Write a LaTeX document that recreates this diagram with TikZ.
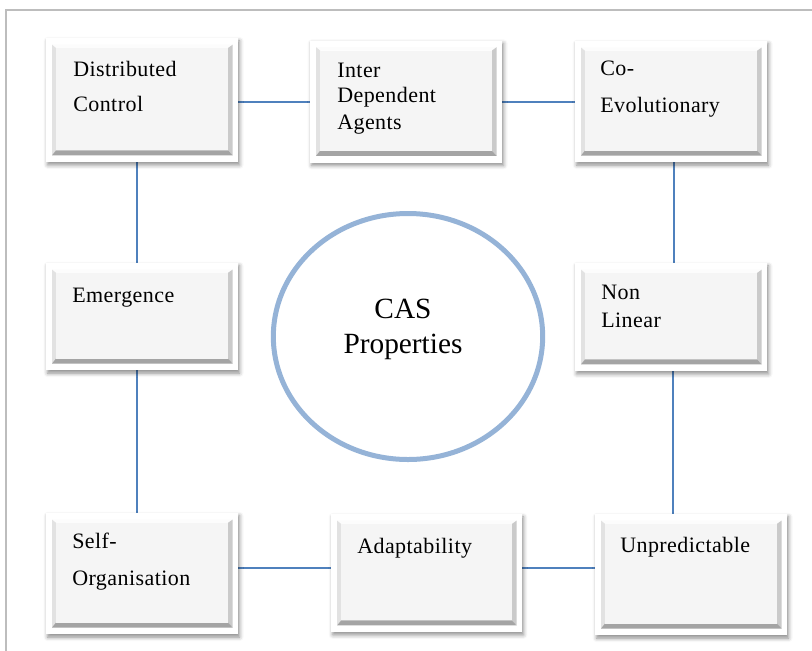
\documentclass[tikz,border=0pt]{standalone}
\usepackage{fontspec}
\setmainfont{Liberation Serif}
\newfontfamily\boxfont[LetterSpace=2]{Liberation Serif}
\usetikzlibrary{shadows.blur,shapes.geometric}
\pgfdeclarelayer{background}
\pgfsetlayers{background,main}

\definecolor{linkblue}{HTML}{4F81BD}
\definecolor{ringblue}{HTML}{95B3D7}
\definecolor{framegray}{HTML}{BDBDBD}
\definecolor{bevtop}{HTML}{FCFCFC}
\definecolor{bevleft}{HTML}{E2E2E2}
\definecolor{bevright}{HTML}{CACACA}
\definecolor{bevbottom}{HTML}{A4A4A4}
\definecolor{bevface}{HTML}{F5F5F5}

\tikzset{
  casbox/.style={rectangle, fill=white, draw=none, inner sep=0pt,
    minimum width=144pt,
    blur shadow={shadow xshift=1.2pt, shadow yshift=-2.2pt,
                 shadow blur radius=3pt, shadow opacity=45},
    path picture={
      \coordinate (Anw) at ([shift={(4.5pt,-5pt)}]path picture bounding box.north west);
      \coordinate (Ase) at ([shift={(-4pt,5pt)}]path picture bounding box.south east);
      \coordinate (Ane) at (Anw -| Ase);
      \coordinate (Asw) at (Anw |- Ase);
      \coordinate (Bnw) at ([shift={(3pt,-2.5pt)}]Anw);
      \coordinate (Bse) at ([shift={(-3.5pt,3.75pt)}]Ase);
      \coordinate (Bne) at (Bnw -| Bse);
      \coordinate (Bsw) at (Bnw |- Bse);
      \fill[bevtop]    (Anw) -- (Ane) -- (Bne) -- (Bnw) -- cycle;
      \fill[bevleft]   (Anw) -- (Bnw) -- (Bsw) -- (Asw) -- cycle;
      \fill[bevright]  (Ane) -- (Ase) -- (Bse) -- (Bne) -- cycle;
      \fill[bevbottom] (Asw) -- (Ase) -- (Bse) -- (Bsw) -- cycle;
      \fill[bevface]   (Bnw) rectangle (Bse);
    }},
  lbl/.style={anchor=base west, inner sep=0pt,
    font=\boxfont\fontsize{16.5pt}{19pt}\selectfont},
  ringtext/.style={anchor=base, inner sep=0pt,
    font=\fontsize{22pt}{26pt}\selectfont},
  conn/.style={draw=linkblue, line width=1.1pt},
}

\begin{document}
\begin{tikzpicture}[x=0.75pt, y=-0.75pt]
  \useasboundingbox (0,0) rectangle (812,650);
  \clip (0,0) rectangle (812,650);

  % outer frame, running off the right and bottom
  \draw[framegray, line width=1.5pt] (6,10) rectangle (900,720);

  % property boxes
  \node[casbox, minimum height=93pt]   (dc)   at (142,100)   {};
  \node[casbox, minimum height=91.5pt] (ida)  at (406,101.5) {};
  \node[casbox, minimum height=91pt]   (coe)  at (671,101.5) {};
  \node[casbox, minimum height=80.5pt] (em)   at (142,316.5) {};
  \node[casbox, minimum height=81pt]   (nl)   at (671,317)   {};
  \node[casbox, minimum height=91pt]   (so)   at (142,573.5) {};
  \node[casbox, minimum height=88.5pt, minimum width=143pt] (adap) at (426.5,573) {};
  \node[casbox, minimum height=91pt]   (unp)  at (691,574.5) {};

  % box labels
  \node[lbl] (dc1)  at (73,76)   {Distributed};
  \node[lbl] (dc2)  at (73,111)  {Control};
  \node[lbl] (ida1) at (337,77)  {Inter};
  \node[lbl] (ida2) at (337,102) {Dependent};
  \node[lbl] (ida3) at (337,129) {Agents};
  \node[lbl] (coe1) at (600,75)  {Co-};
  \node[lbl] (coe2) at (600,112) {Evolutionary};
  \node[lbl] (em1)  at (72,302)  {Emergence};
  \node[lbl] (nl1)  at (601,299) {Non};
  \node[lbl] (nl2)  at (601,327) {Linear};
  \node[lbl] (so1)  at (72,548)  {Self-};
  \node[lbl] (so2)  at (72,585)  {Organisation};
  \node[lbl] (ad1)  at (357,553) {Adaptability};
  \node[lbl] (un1)  at (620,552) {Unpredictable};

  % central ring
  \node[draw=ringblue, line width=3.75pt, ellipse, inner sep=0pt,
        minimum width=202pt, minimum height=184.5pt] (ring) at (408,336.5) {};
  \node[ringtext] (ring1) at (403,318) {CAS};
  \node[ringtext] (ring2) at (403,353) {Properties};

  % connectors
  \begin{pgfonlayer}{background}
    \draw[conn] (dc.east |- 0,102)    -- (ida.west |- 0,102);
    \draw[conn] (ida.east |- 0,102)   -- (coe.west |- 0,102);
    \draw[conn] (137,0 |- dc.south)   -- (137,0 |- em.north);
    \draw[conn] (137,0 |- em.south)   -- (137,0 |- so.north);
    \draw[conn] (674,0 |- coe.south)  -- (674,0 |- nl.north);
    \draw[conn] (673,0 |- nl.south)   -- (673,0 |- unp.north);
    \draw[conn] (so.east |- 0,568)    -- (adap.west |- 0,568);
    \draw[conn] (adap.east |- 0,568)  -- (unp.west |- 0,568);
  \end{pgfonlayer}
\end{tikzpicture}
\end{document}
